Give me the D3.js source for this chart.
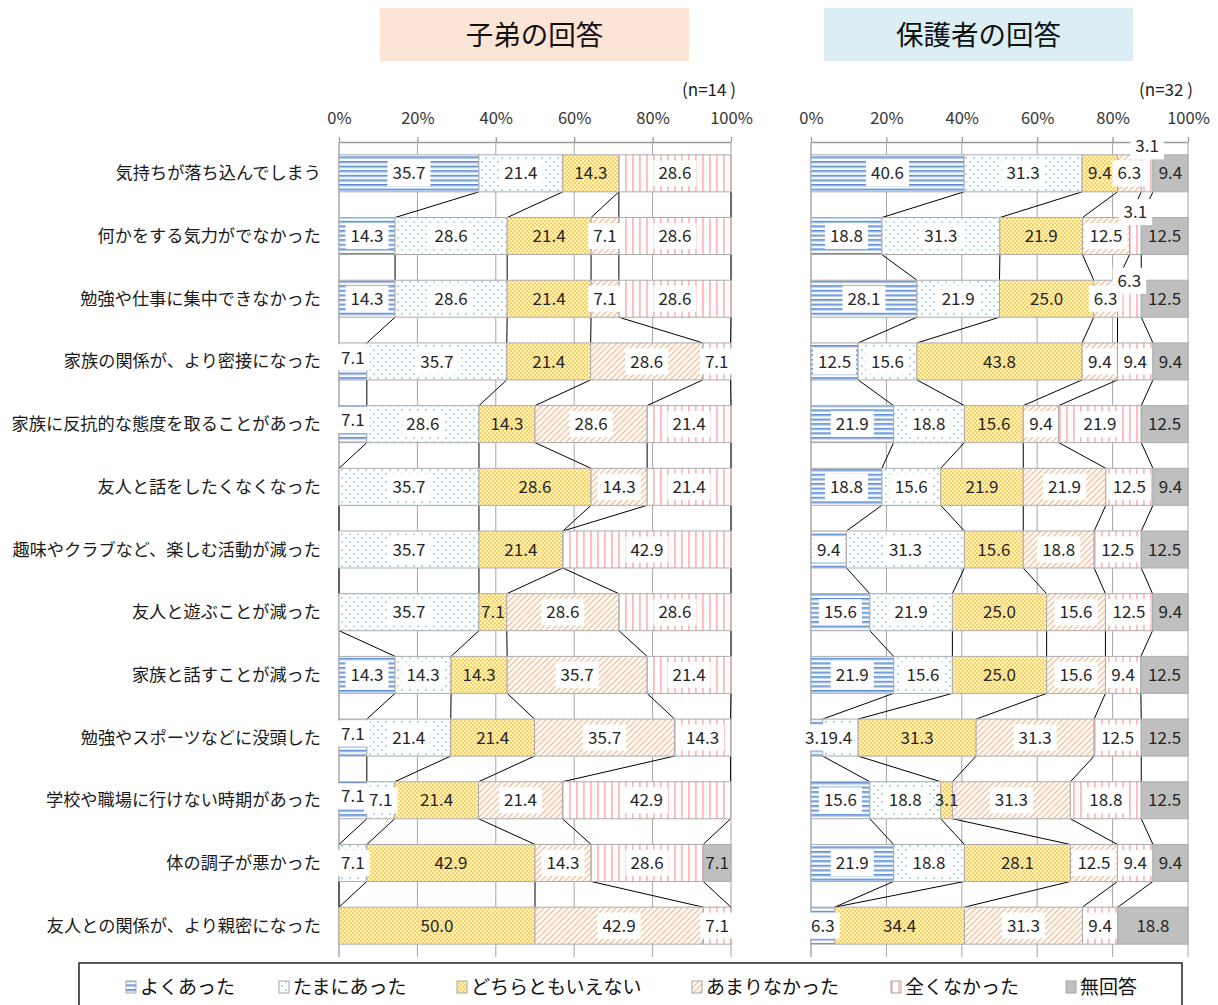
<!DOCTYPE html>
<html>
<head>
<meta charset="utf-8">
<script src="https://cdn.jsdelivr.net/npm/d3@7"></script>
<style>
  body { margin: 0; background: #fff; }
  svg { display: block; }
  text { font-family: "Noto Sans CJK JP", "Noto Sans", sans-serif; }
</style>
</head>
<body>
<svg id="chart" width="1218" height="1005"></svg>
<script>
// ---- data -------------------------------------------------------------
const categories = [
  "気持ちが落ち込んでしまう",
  "何かをする気力がでなかった",
  "勉強や仕事に集中できなかった",
  "家族の関係が、より密接になった",
  "家族に反抗的な態度を取ることがあった",
  "友人と話をしたくなくなった",
  "趣味やクラブなど、楽しむ活動が減った",
  "友人と遊ぶことが減った",
  "家族と話すことが減った",
  "勉強やスポーツなどに没頭した",
  "学校や職場に行けない時期があった",
  "体の調子が悪かった",
  "友人との関係が、より親密になった"
];
const seriesNames = ["よくあった", "たまにあった", "どちらともいえない", "あまりなかった", "全くなかった", "無回答"];
const tickValues = [0, 20, 40, 60, 80, 100];
const tickLabels = ["0%", "20%", "40%", "60%", "80%", "100%"];
const panelTitles = ["子弟の回答", "保護者の回答"];
const sampleSizes = ["(n=14 )", "(n=32 )"];

// 子弟 (n=14)
const childOften     = [35.7, 14.3, 14.3, 7.1, 7.1, 0, 0, 0, 14.3, 7.1, 7.1, 0, 0];
const childSometimes = [21.4, 28.6, 28.6, 35.7, 28.6, 35.7, 35.7, 35.7, 14.3, 21.4, 7.1, 7.1, 0];
const childNeutral   = [14.3, 21.4, 21.4, 21.4, 14.3, 28.6, 21.4, 7.1, 14.3, 21.4, 21.4, 42.9, 50.0];
const childRarely    = [0, 7.1, 7.1, 28.6, 28.6, 14.3, 0, 28.6, 35.7, 35.7, 21.4, 14.3, 42.9];
const childNever     = [28.6, 28.6, 28.6, 7.1, 21.4, 21.4, 42.9, 28.6, 21.4, 14.3, 42.9, 28.6, 7.1];
const childNoAnswer  = [0, 0, 0, 0, 0, 0, 0, 0, 0, 0, 0, 7.1, 0];

// 保護者 (n=32)
const parentOften     = [40.6, 18.8, 28.1, 12.5, 21.9, 18.8, 9.4, 15.6, 21.9, 3.1, 15.6, 21.9, 6.3];
const parentSometimes = [31.3, 31.3, 21.9, 15.6, 18.8, 15.6, 31.3, 21.9, 15.6, 9.4, 18.8, 18.8, 0];
const parentNeutral   = [9.4, 21.9, 25.0, 43.8, 15.6, 21.9, 15.6, 25.0, 25.0, 31.3, 3.1, 28.1, 34.4];
const parentRarely    = [6.3, 12.5, 6.3, 9.4, 9.4, 21.9, 18.8, 15.6, 15.6, 31.3, 31.3, 12.5, 31.3];
const parentNever     = [3.1, 3.1, 6.3, 9.4, 21.9, 12.5, 12.5, 12.5, 9.4, 12.5, 18.8, 9.4, 9.4];
const parentNoAnswer  = [9.4, 12.5, 12.5, 9.4, 12.5, 9.4, 12.5, 9.4, 12.5, 12.5, 12.5, 9.4, 18.8];

// ---- setup ------------------------------------------------------------
const svg = d3.select("#chart");
const defs = svg.append("defs");

// fill patterns for each answer
function pat(id, w, h, bg, draw) {
  const p = defs.append("pattern").attr("id", id).attr("patternUnits", "userSpaceOnUse")
    .attr("width", w).attr("height", h);
  p.append("rect").attr("width", w).attr("height", h).attr("fill", bg);
  draw(p);
}
pat("p0", 6, 4.6, "#fff", p => {
  p.append("rect").attr("y", 0).attr("width", 6).attr("height", 1.6).attr("fill", "#5a8ad6");
  p.append("rect").attr("y", 1.6).attr("width", 6).attr("height", 0.9).attr("fill", "#a9c5ee");
});
pat("p1", 8, 8, "#fff", p => {
  p.append("circle").attr("cx", 2).attr("cy", 2).attr("r", 0.9).attr("fill", "#86cbe0");
  p.append("circle").attr("cx", 6).attr("cy", 6).attr("r", 0.9).attr("fill", "#86cbe0");
});
pat("p2", 4, 4, "#fff3c4", p => {
  p.append("circle").attr("cx", 1).attr("cy", 1).attr("r", 0.95).attr("fill", "#fbc534");
  p.append("circle").attr("cx", 3).attr("cy", 3).attr("r", 0.95).attr("fill", "#fbc534");
});
pat("p3", 6, 6, "#fff", p => {
  p.append("path").attr("d", "M-1,7 L7,-1 M-1,1 L1,-1 M5,7 L7,5")
    .attr("stroke", "#f8c39c").attr("stroke-width", 1.5);
});
pat("p4", 7, 10, "#fff", p => {
  p.append("rect").attr("x", 2).attr("width", 1.8).attr("height", 10).attr("fill", "#ffb9bd");
});
const fills = ["url(#p0)", "url(#p1)", "url(#p2)", "url(#p3)", "url(#p4)", "#bfbfbf"];
const labelBox = [true, true, false, true, true, false];

const y = d3.scaleBand().domain(d3.range(categories.length)).range([142, 957])
  .paddingInner(0.41).paddingOuter(0.205);

const panels = [
  { title: panelTitles[0], n: sampleSizes[0], x0: 339, x1: 731, titleBox: [380, 689], titleFill: "#fce4d6",
    series: [childOften, childSometimes, childNeutral, childRarely, childNever, childNoAnswer],
    nudges: [{ row: 3, s: 0, dy: -4 }, { row: 4, s: 0, dy: -4 }, { row: 9, s: 0, dy: -4 }, { row: 10, s: 0, dy: -4 }] },
  { title: panelTitles[1], n: sampleSizes[1], x0: 811, x1: 1188, titleBox: [824, 1133], titleFill: "#daeef3",
    series: [parentOften, parentSometimes, parentNeutral, parentRarely, parentNever, parentNoAnswer],
    nudges: [{ row: 0, s: 4, dy: -27 }, { row: 1, s: 4, dy: -24 }, { row: 2, s: 4, dy: -18 }] }
];

// category labels
svg.append("g").selectAll("text").data(categories).join("text")
  .attr("x", 321).attr("y", (d, i) => y(i) + y.bandwidth() / 2)
  .attr("dy", "0.35em").attr("text-anchor", "end")
  .attr("font-size", 17.2).attr("fill", "#1a1a1a").text(d => d);

panels.forEach(P => {
  const x = d3.scaleLinear().domain([0, 100]).range([P.x0, P.x1]);
  const g = svg.append("g");

  // title box
  g.append("rect").attr("x", P.titleBox[0]).attr("y", 8)
    .attr("width", P.titleBox[1] - P.titleBox[0]).attr("height", 53).attr("fill", P.titleFill);
  g.append("text").attr("x", (P.titleBox[0] + P.titleBox[1]) / 2).attr("y", 35).attr("dy", "0.36em")
    .attr("text-anchor", "middle").attr("font-size", 27.5).attr("fill", "#111").text(P.title);
  g.append("text").attr("x", P.x1 + 5).attr("y", 90).attr("dy", "0.35em").attr("text-anchor", "end")
    .attr("font-size", 17).attr("fill", "#222").text(P.n);

  // top axis with gridlines
  const axis = d3.axisTop(x).tickValues(tickValues).tickFormat((d, i) => tickLabels[i])
    .tickSize(5).tickSizeOuter(0);
  const ag = g.append("g").attr("transform", "translate(0,142)").call(axis);
  ag.select(".domain").attr("stroke", "#9a9a9a").attr("stroke-width", 1.3);
  ag.selectAll(".tick line").attr("stroke", "#9a9a9a").attr("stroke-width", 1.3);
  ag.selectAll(".tick text").attr("font-size", 16.5).attr("fill", "#333")
    .attr("font-family", "\"Noto Sans CJK JP\", sans-serif").attr("y", -18);

  g.append("g").selectAll("line").data(tickValues).join("line")
    .attr("x1", d => x(d)).attr("x2", d => x(d)).attr("y1", 142).attr("y2", 957)
    .attr("stroke", d => d === 0 ? "#9a9a9a" : "#a6a6a6").attr("stroke-width", d => d === 0 ? 1.3 : 1);

  // stacked segments
  const rows = categories.map((c, i) => {
    let acc = 0;
    return P.series.map((s, k) => {
      const v = s[i];
      const seg = { row: i, s: k, v, a: acc, b: Math.min(100, acc + v) };
      acc += v;
      return seg;
    });
  });

  // series lines between consecutive bars
  const conn = [];
  for (let i = 0; i < rows.length - 1; i++) {
    for (let k = 0; k < 5; k++) {
      conn.push({ x1: x(rows[i][k].b), y1: y(i) + y.bandwidth(), x2: x(rows[i + 1][k].b), y2: y(i + 1) });
    }
  }
  g.append("g").selectAll("line").data(conn).join("line")
    .attr("x1", d => d.x1).attr("y1", d => d.y1).attr("x2", d => d.x2).attr("y2", d => d.y2)
    .attr("stroke", "#000").attr("stroke-width", 1);

  const segs = rows.flat().filter(d => d.v > 0);
  g.append("g").selectAll("rect").data(segs).join("rect")
    .attr("x", d => x(d.a)).attr("y", d => y(d.row))
    .attr("width", d => x(d.b) - x(d.a)).attr("height", y.bandwidth())
    .attr("fill", d => fills[d.s]).attr("stroke", "#ababab").attr("stroke-width", 1);

  // value labels: white backing boxes first, all texts on top
  const boxLayer = g.append("g");
  const textLayer = g.append("g");
  segs.forEach(d => {
    const nd = P.nudges.find(n => n.row === d.row && n.s === d.s);
    const cx = (x(d.a) + x(d.b)) / 2;
    const cy = y(d.row) + y.bandwidth() / 2 + (nd ? nd.dy : 0);
    const t = textLayer.append("text").attr("x", cx).attr("y", cy).attr("dy", "0.36em")
      .attr("text-anchor", "middle").attr("font-size", 17).attr("fill", "#262626")
      .text(d.v.toFixed(1));
    if (labelBox[d.s] || nd) {
      const w = t.node().getComputedTextLength();
      boxLayer.append("rect").attr("x", cx - w / 2 - 5).attr("y", cy - 13)
        .attr("width", w + 10).attr("height", 26).attr("fill", "#fff");
    }
  });
});

// legend
const legend = svg.append("g");
legend.append("rect").attr("x", 79).attr("y", 963).attr("width", 1103).attr("height", 60)
  .attr("fill", "#fff").attr("stroke", "#222").attr("stroke-width", 1.5);
const legendX = [126, 279, 457, 692, 891, 1066];
seriesNames.forEach((name, k) => {
  legend.append("rect").attr("x", legendX[k]).attr("y", 981).attr("width", 10).attr("height", 12)
    .attr("fill", fills[k]).attr("stroke", "#a6a6a6").attr("stroke-width", 1);
  legend.append("text").attr("x", legendX[k] + 14).attr("y", 987).attr("dy", "0.36em")
    .attr("font-size", 19).attr("fill", "#111").text(name);
});
</script>
</body>
</html>
